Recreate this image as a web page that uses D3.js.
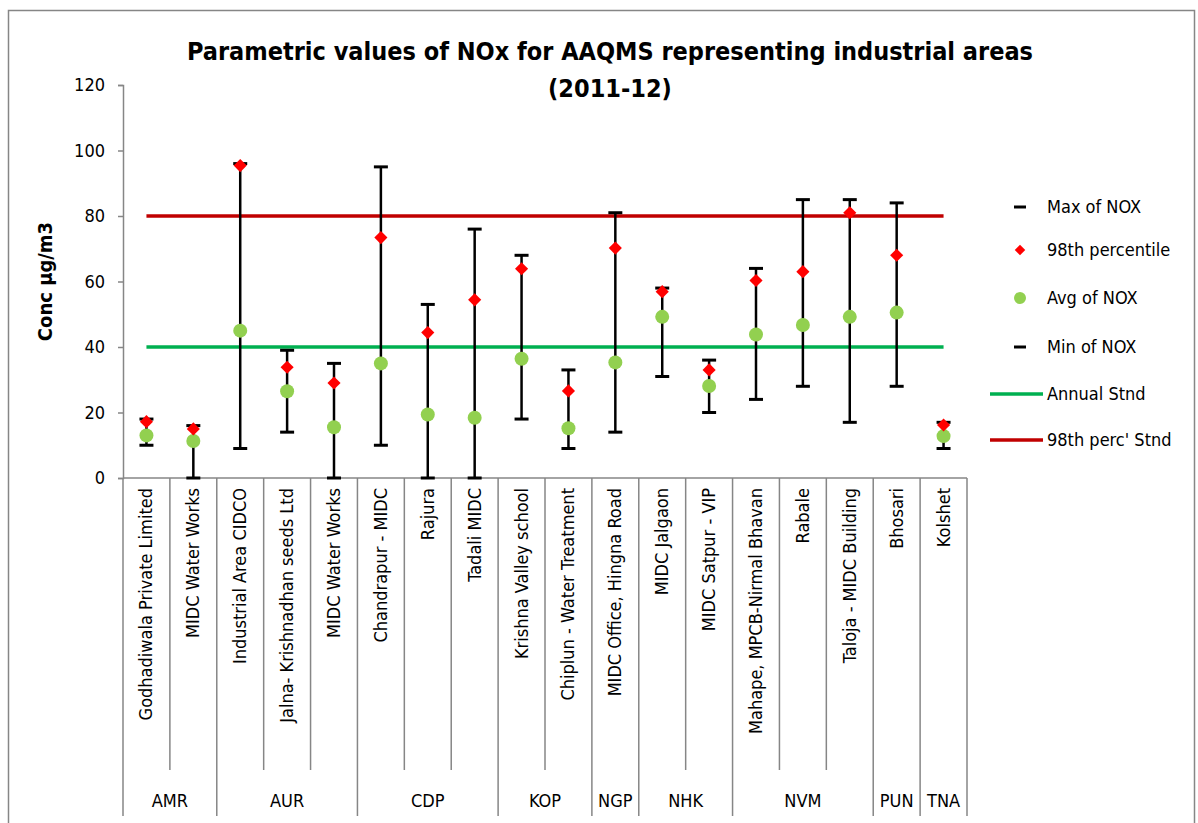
<!DOCTYPE html>
<html>
<head>
<meta charset="utf-8">
<script src="https://cdn.jsdelivr.net/npm/d3@7"></script>
<style>
  body { margin: 0; background: #fff; }
  text { font-family: "Liberation Sans Narrow", "DejaVu Sans Condensed", "Arial Narrow", sans-serif; fill: #000; }
</style>
</head>
<body>
<svg id="chart"></svg>
<script>
// stations, grouped by region
const stations = [
  "Godhadiwala Private Limited", "MIDC Water Works",
  "Industrial Area CIDCO", "Jalna- Krishnadhan seeds Ltd", "MIDC Water Works",
  "Chandrapur - MIDC", "Rajura", "Tadali MIDC",
  "Krishna Valley school", "Chiplun - Water Treatment",
  "MIDC Office, Hingna Road",
  "MIDC Jalgaon", "MIDC Satpur - VIP",
  "Mahape, MPCB-Nirmal Bhavan", "Rabale", "Taloja - MIDC Building",
  "Bhosari",
  "Kolshet"
]
const regions = ["AMR", "AUR", "CDP", "KOP", "NGP", "NHK", "NVM", "PUN", "TNA"]
const regionSizes = [2, 3, 3, 2, 1, 2, 3, 1, 1]

const maxNox = [18, 16, 96, 39, 35, 95, 53, 76, 68, 33, 81, 58, 36, 64, 85, 85, 84, 17]
const perc98 = [17.2, 15, 95.4, 33.8, 29, 73.4, 44.4, 54.4, 63.9, 26.6, 70.2, 56.9, 33, 60.3, 63, 81, 68, 16.2]
const avgNox = [13, 11.3, 45, 26.5, 15.5, 35, 19.4, 18.4, 36.4, 15.2, 35.3, 49.2, 28.1, 43.8, 46.7, 49.2, 50.5, 12.8]
const minNox = [10, 0, 9, 14, 0, 10, 0, 0, 18, 9, 14, 31, 20, 24, 28, 17, 28, 9]

const annualStnd = 40
const percStnd = 80
const yTicks = [0, 20, 40, 60, 80, 100, 120]

const W = 1198, H = 823
const margin = { top: 85, left: 123, right: 231, bottom: 345 }
const dims = {
    width: W - margin.left - margin.right,
    height: H - margin.top - margin.bottom,
}

const svg = d3.select('#chart').attr('width', W).attr('height', H)

// outer frame
svg.append('rect')
   .attr('x', 8.5).attr('y', 10.5)
   .attr('width', W - 12).attr('height', H - 4)
   .attr('fill', 'none').attr('stroke', '#868686').attr('stroke-width', 1.5)

const x = d3.scaleBand().domain(d3.range(stations.length)).range([0, dims.width])
const y = d3.scaleLinear().domain([0, 120]).range([dims.height, 0])

const g = svg.append('g').attr('transform', `translate(${margin.left},${margin.top})`)

// title
svg.append('text').attr('x', 610).attr('y', 60)
   .attr('text-anchor', 'middle').style('font-size', '25px').style('font-weight', 'bold')
   .text('Parametric values of NOx for AAQMS representing industrial areas')
svg.append('text').attr('x', 610).attr('y', 97)
   .attr('text-anchor', 'middle').style('font-size', '25px').style('font-weight', 'bold')
   .text('(2011-12)')

// y axis
const yAxis = g.append('g').call(d3.axisLeft(y).tickValues(yTicks).tickSize(5).tickPadding(13))
yAxis.selectAll('path, line').attr('stroke', '#868686').attr('stroke-width', 1.5)
yAxis.selectAll('text').style('font-size', '18px')
     .style('font-family', '"Liberation Sans Narrow", "DejaVu Sans Condensed", sans-serif')

svg.append('text')
   .attr('transform', `translate(52,${margin.top + dims.height / 2}) rotate(-90)`)
   .attr('text-anchor', 'middle').style('font-size', '20px').style('font-weight', 'bold')
   .text('Conc µg/m3')

// x axis line
g.append('line').attr('x1', 0).attr('x2', dims.width)
 .attr('y1', dims.height).attr('y2', dims.height)
 .attr('stroke', '#868686').attr('stroke-width', 1.5)

// category separators: short ones inside a group, long ones between groups
const groupStarts = []
let acc = 0
regionSizes.forEach(function (n) { groupStarts.push(acc); acc += n })
d3.range(stations.length + 1).forEach(function (i) {
    const isGroup = i === stations.length || groupStarts.indexOf(i) >= 0
    const xx = i === stations.length ? dims.width : x(i)
    g.append('line')
     .attr('x1', xx).attr('x2', xx)
     .attr('y1', dims.height)
     .attr('y2', isGroup ? dims.height + 338 : dims.height + 292)
     .attr('stroke', '#868686').attr('stroke-width', 1.5)
})

// station labels
g.selectAll('.st-label').data(stations).enter().append('text')
 .attr('class', 'st-label')
 .attr('transform', function (d, i) {
     return `translate(${x(i) + x.bandwidth() / 2 + 6},${dims.height + 10}) rotate(-90)`
 })
 .attr('text-anchor', 'end').style('font-size', '18px')
 .text(function (d) { return d })

// region labels
g.selectAll('.rg-label').data(regions).enter().append('text')
 .attr('class', 'rg-label')
 .attr('x', function (d, i) {
     const s = groupStarts[i], n = regionSizes[i]
     return x(s) + n * x.bandwidth() / 2
 })
 .attr('y', dims.height + 329)
 .attr('text-anchor', 'middle').style('font-size', '18px')
 .text(function (d) { return d })

const cx = function (i) { return x(i) + x.bandwidth() / 2 }

// standard lines
const stdLines = [
    { v: percStnd, color: '#C00000' },
    { v: annualStnd, color: '#00B050' },
]
g.selectAll('.std').data(stdLines).enter().append('line')
 .attr('class', 'std')
 .attr('x1', cx(0)).attr('x2', cx(stations.length - 1))
 .attr('y1', function (d) { return y(d.v) }).attr('y2', function (d) { return y(d.v) })
 .attr('stroke', function (d) { return d.color }).attr('stroke-width', 3.5)

// min-max bars
const idx = d3.range(stations.length)
g.selectAll('.range').data(idx).enter().append('line')
 .attr('x1', cx).attr('x2', cx)
 .attr('y1', function (i) { return y(maxNox[i]) })
 .attr('y2', function (i) { return y(minNox[i]) })
 .attr('stroke', '#000').attr('stroke-width', 2.5)

const caps = idx.map(function (i) { return { i: i, v: maxNox[i] } })
    .concat(idx.map(function (i) { return { i: i, v: minNox[i] } }))
g.selectAll('.cap').data(caps).enter().append('line')
 .attr('x1', function (d) { return cx(d.i) - 7 }).attr('x2', function (d) { return cx(d.i) + 7 })
 .attr('y1', function (d) { return y(d.v) }).attr('y2', function (d) { return y(d.v) })
 .attr('stroke', '#000').attr('stroke-width', 3)

// avg circles
g.selectAll('.avg').data(idx).enter().append('circle')
 .attr('cx', cx).attr('cy', function (i) { return y(avgNox[i]) })
 .attr('r', 7).attr('fill', '#92D050')

// 98th percentile diamonds
const diamond = d3.symbol().type(d3.symbolDiamond2).size(110)
g.selectAll('.p98').data(idx).enter().append('path')
 .attr('d', diamond)
 .attr('transform', function (i) { return `translate(${cx(i)},${y(perc98[i])})` })
 .attr('fill', '#FF0000')

// legend
const legend = svg.append('g').attr('transform', 'translate(990,0)')
const legendItems = [
    { label: 'Max of NOX', kind: 'dash', y: 207 },
    { label: '98th percentile', kind: 'diamond', y: 250 },
    { label: 'Avg of NOX', kind: 'circle', y: 298 },
    { label: 'Min of NOX', kind: 'dash', y: 347 },
    { label: 'Annual Stnd', kind: 'line', color: '#00B050', y: 394 },
    { label: "98th perc' Stnd", kind: 'line', color: '#C00000', y: 440 },
]
legendItems.forEach(function (d) {
    if (d.kind === 'dash') {
        legend.append('line').attr('x1', 24).attr('x2', 36).attr('y1', d.y).attr('y2', d.y)
              .attr('stroke', '#000').attr('stroke-width', 3)
    } else if (d.kind === 'diamond') {
        legend.append('path').attr('d', d3.symbol().type(d3.symbolDiamond2).size(70))
              .attr('transform', `translate(30,${d.y})`).attr('fill', '#FF0000')
    } else if (d.kind === 'circle') {
        legend.append('circle').attr('cx', 30).attr('cy', d.y).attr('r', 6).attr('fill', '#92D050')
    } else {
        legend.append('line').attr('x1', 0).attr('x2', 53).attr('y1', d.y).attr('y2', d.y)
              .attr('stroke', d.color).attr('stroke-width', 3.5)
    }
    legend.append('text').attr('x', 57).attr('y', d.y).attr('dy', '.35em')
          .style('font-size', '18px').text(d.label)
})
</script>
</body>
</html>
